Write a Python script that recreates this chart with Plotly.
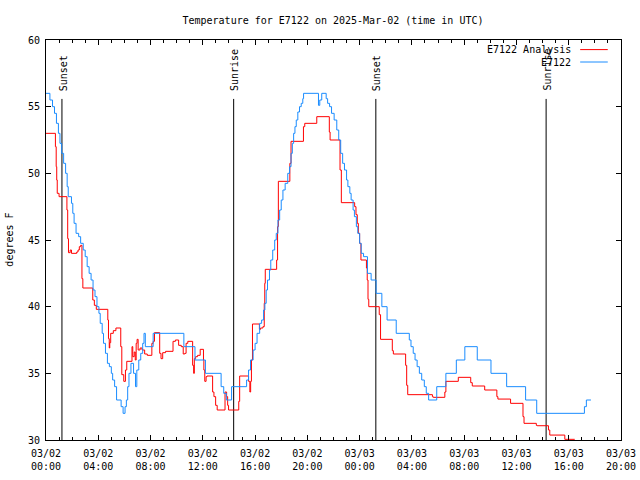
import pandas as pd
import plotly.graph_objects as go

BASE = pd.Timestamp("2025-03-02 00:00")

# Observed station (blue) : hours after 03/02 00:00 UTC, degrees F (step values)
obs_hours = [0, 0.3, 0.5, 0.65, 0.8, 0.95, 1.07, 1.2, 1.35, 1.5, 1.62, 1.7, 1.95, 2.05, 2.15, 2.3,
             2.5, 2.65, 2.85, 3.0, 3.15, 3.3, 3.45, 3.6, 3.75, 3.9, 4.05, 4.15, 4.3, 4.4, 4.55, 4.7,
             4.85, 5.0, 5.1, 5.25, 5.4, 5.75, 5.9, 6.05, 6.15, 6.25, 6.35, 6.5, 6.7, 6.85, 6.95, 7.1,
             7.25, 7.4, 7.5, 7.6, 8.2, 10.55, 11.4, 12.2, 13.4, 13.6, 13.8, 14.2, 15.35, 15.5, 15.65,
             15.85, 16.0, 16.15, 16.35, 16.5, 16.65, 16.75, 16.85, 16.95, 17.1, 17.2, 17.35, 17.5,
             17.62, 17.75, 17.88, 18.0, 18.13, 18.3, 18.5, 18.64, 18.75, 18.85, 18.95, 19.05, 19.15,
             19.27, 19.4, 19.53, 19.65, 19.71, 20.85, 20.95, 21.1, 21.44, 21.55, 21.7, 21.85, 22.05,
             22.25, 22.4, 22.55, 22.7, 22.84, 23.0, 23.1, 23.25, 23.35, 23.5, 23.6, 23.75, 23.86,
             24.0, 24.12, 24.3, 24.6, 24.88, 25.26, 25.7, 26.1, 26.8, 27.8, 27.93, 28.1, 28.24, 28.4,
             28.57, 28.75, 28.95, 29.1, 29.28, 29.9, 30.6, 31.4, 32.05, 33.0, 34.05, 35.25, 36.7,
             37.55, 41.2, 41.35, 41.7]
obs_temp = [56, 55.5, 55, 54.5, 53.75, 53, 52.25, 51.5, 50.75, 50, 49, 48.25, 47.75, 47, 46.25, 45.5,
            45.25, 44.75, 44.25, 43.75, 43, 42.5, 42, 41.25, 40.75, 40, 39.5, 38.75, 38, 37.25, 36.5,
            35.75, 35.5, 35, 34.5, 34, 33, 32.5, 32, 32.5, 33, 34, 35, 35.75, 35, 34, 35.25, 36,
            36.5, 37.25, 38, 37, 38, 37, 36, 35, 34, 33.5, 33, 34, 34.5, 35.25, 36,
            36.75, 37.25, 38, 38.75, 39, 39.75, 40.25, 41.25, 42, 42.75, 43.5, 44.25, 45,
            45.5, 46.5, 47.25, 48, 48.75, 49.25, 50, 50.5, 51.5, 52.25, 53, 53.5, 54,
            54.6, 55, 55.25, 55.6, 56, 55.1, 55.5, 56, 55.6, 55.25, 55, 54.5, 54,
            53.25, 52.5, 51.5, 50.75, 50.25, 49.5, 49, 48.5, 48, 47.25, 46.75, 46, 45.5,
            44.75, 44, 43.75, 42.5, 42, 41, 40, 39, 38, 37.5, 37, 36.5, 36, 35.5,
            35, 34.5, 34, 33.5, 33, 34, 35, 36, 37, 36, 35, 34, 33,
            32, 32.5, 33, 33]

# Analysis (red)
ana_hours = [0, 0.72, 0.78, 0.82, 0.86, 1.0, 1.6, 1.66, 1.72, 1.85, 1.95, 2.35, 2.45, 2.55, 2.65,
             2.75, 2.82, 3.58, 3.7, 3.85, 4.73, 4.78, 4.84, 4.88, 4.95, 5.15, 5.35, 5.72, 5.8, 5.95,
             6.08, 6.18, 6.58, 6.64, 6.75, 6.83, 6.9, 6.97, 7.05, 7.2, 7.35, 7.55, 7.75, 8.1, 8.2,
             8.3, 8.7, 8.8, 8.93, 9.15, 9.72, 9.9, 10.15, 10.35, 10.5, 10.62, 10.72, 10.85, 11.22,
             11.3, 11.35, 11.45, 11.6, 11.8, 12.05, 12.08, 12.15, 12.25, 12.32, 12.75, 12.85, 12.98,
             13.1, 13.7, 13.82, 13.9, 13.97, 14.75, 14.82, 15.5, 15.6, 15.66, 15.72, 15.8, 16.33,
             16.42, 16.6, 16.7, 16.74, 16.78, 17.65, 17.72, 17.78, 18.66, 18.75, 19.7, 19.8, 20.72,
             21.68, 21.74, 22.5, 22.6, 23.62, 23.72, 23.82, 23.9, 24.0, 24.1, 24.52, 24.58, 24.64,
             24.7, 25.5, 25.6, 26.5, 26.58, 27.52, 27.6, 27.68, 29.57, 29.63, 30.52, 30.6, 31.55,
             32.5, 32.62, 33.57, 34.5, 34.58, 35.55, 36.5, 36.58, 37.52, 37.58, 38.45, 38.55, 39.7,
             40.46]
ana_temp = [53, 52, 50.5, 49.5, 48.5, 48.25, 47.25, 45.1, 44.05, 44.25, 44, 44.1, 44.25, 44.5, 44.6,
            42.1, 41.4, 40.5, 40.1, 39.8, 39, 37.6, 36.9, 37.3, 38, 38.2, 38.4, 37, 34.9, 34.4,
            35.25, 35.9, 37, 36.25, 36.6, 36, 37.25, 37.55, 36.75, 36.9, 36.75, 36.45, 36.35, 37.25, 37.4,
            38.05, 36.5, 36.1, 36.55, 36.65, 37.4, 37.5, 37.1, 37, 36.45, 36.5, 37.25, 37.4, 35.6,
            35, 36.1, 36.25, 36.35, 36.8, 36, 35.25, 34.4, 34.75, 34.8, 33.6, 33.25, 32.6,
            32.25, 33.6, 33.25, 32.6, 32.25, 32.9, 34.8, 34.4, 33.6, 34.4, 36, 38.7, 38.3,
            38.4, 38.5, 40.25, 41.75, 42.8, 43.5, 46, 49.4, 50.75, 52.4, 53.5, 53.75, 54.25,
            53.1, 52.5, 50.25, 47.8, 47.5, 46.9, 46.25, 45.5, 44.75, 43.5, 42.9, 42, 40.55,
            40, 39.4, 37.55, 36.7, 36.45, 35.6, 34.1, 33.4, 33.25, 33.2, 33.6, 34.4, 34.7,
            34.3, 34.05, 33.75, 33.25, 33.07, 32.75, 31.75, 31.25, 31.1, 31.07, 30.75, 30.37, 30.05,
            30.05]

# Sun events (hours after 03/02 00:00 UTC)
sun_hours = [1.22, 14.36, 25.24, 38.27]
sun_labels = ["Sunset", "Sunrise", "Sunset", "Sunrise"]
sun_line_top = 55.58

tick_hours = [0, 4, 8, 12, 16, 20, 24, 28, 32, 36, 40, 44]
tick_labels = ["03/02<br>00:00", "03/02<br>04:00", "03/02<br>08:00", "03/02<br>12:00",
               "03/02<br>16:00", "03/02<br>20:00", "03/03<br>00:00", "03/03<br>04:00",
               "03/03<br>08:00", "03/03<br>12:00", "03/03<br>16:00", "03/03<br>20:00"]

series_names = ["E7122 Analysis", "E7122"]
series_colors = ["#ff0000", "#1a8cff"]


def to_time(hours):
    return [BASE + pd.Timedelta(hours=h) for h in hours]


FONT = "DejaVu Sans Mono"
fig = go.Figure()
fig.add_trace(go.Scatter(x=to_time(ana_hours), y=ana_temp, mode="lines", line_shape="hv",
                         line=dict(color=series_colors[0], width=1), name=series_names[0],
                         showlegend=False))
fig.add_trace(go.Scatter(x=to_time(obs_hours), y=obs_temp, mode="lines", line_shape="hv",
                         line=dict(color=series_colors[1], width=1), name=series_names[1],
                         showlegend=False))

for h, lab in zip(sun_hours, sun_labels):
    t = BASE + pd.Timedelta(hours=h)
    fig.add_shape(type="line", xref="x", yref="y", x0=t, x1=t, y0=30, y1=sun_line_top,
                  line=dict(color="black", width=1), layer="below")
    fig.add_annotation(x=t, y=sun_line_top, xref="x", yref="y", text=lab, textangle=-90,
                       showarrow=False, xanchor="center", yanchor="bottom", xshift=1.5, yshift=6,
                       font=dict(family=FONT, size=10, color="black"))

# gnuplot-style legend (text right, sample line left)
leg_y = [0.976, 0.945]
for name, col, yy in zip(series_names, series_colors, leg_y):
    fig.add_annotation(x=0.917, y=yy, xref="paper", yref="paper", text=name, showarrow=False,
                       xanchor="right", yanchor="middle",
                       font=dict(family=FONT, size=10, color="black"))
    fig.add_shape(type="line", xref="paper", yref="paper", x0=0.929, x1=0.977, y0=yy, y1=yy,
                  line=dict(color=col, width=1))

# y-axis title (gnuplot places it at the far left edge)
fig.add_annotation(x=-0.065, y=0.5, xref="paper", yref="paper", text="degrees F", textangle=-90,
                   showarrow=False, xanchor="center", yanchor="middle",
                   font=dict(family=FONT, size=10, color="black"))

fig.update_layout(
    width=640, height=480,
    margin=dict(l=46, r=19, t=40, b=40, autoexpand=False),
    paper_bgcolor="white", plot_bgcolor="white",
    font=dict(family=FONT, size=10, color="black"),
    title=dict(text="Temperature for E7122 on 2025-Mar-02 (time in UTC)", x=0.5203, xanchor="center",
               y=0.9583, yanchor="middle", automargin=False,
               font=dict(family=FONT, size=10, color="black")),
    showlegend=False,
    hovermode=False,
)
fig.update_xaxes(
    range=[BASE, BASE + pd.Timedelta(hours=44)], automargin=False,
    tickvals=to_time(tick_hours), ticktext=tick_labels,
    ticks="inside", ticklen=5, tickcolor="black", showline=True, linecolor="black", linewidth=1,
    mirror="allticks", showgrid=False, zeroline=False, ticklabelstandoff=4,
    minor=dict(ticks="inside", ticklen=3, dtick=3600000, tickcolor="black", showgrid=False),
    tickfont=dict(family=FONT, size=10, color="black"),
)
fig.update_yaxes(
    range=[30, 60], dtick=5, tick0=30, automargin=False,
    ticks="inside", ticklen=5, tickcolor="black", showline=True, linecolor="black", linewidth=1,
    mirror="allticks", showgrid=False, zeroline=False, ticklabelstandoff=3,
    tickfont=dict(family=FONT, size=10, color="black"),
)

# remove the default 8px page margin so the 640x480 figure fills the window exactly
fig.write_html("out.html", config={"displayModeBar": False},
               post_script="document.body.style.margin='0';document.body.style.overflow='hidden';")
